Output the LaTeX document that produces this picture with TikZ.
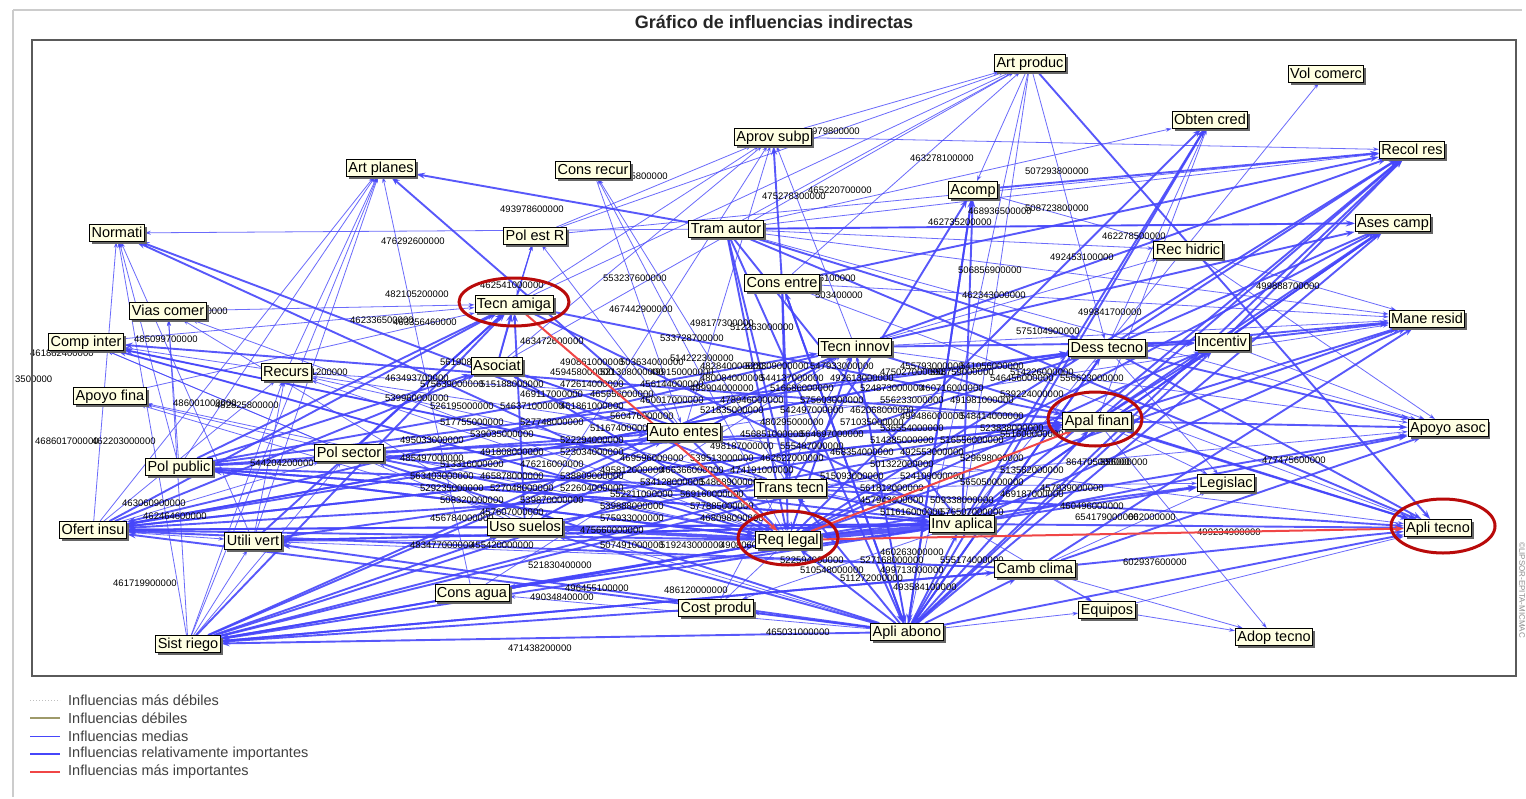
\documentclass[tikz,border=0pt]{standalone}
\usepackage{fontspec}
\setmainfont{Liberation Sans}
\usetikzlibrary{arrows.meta,shadows}
\definecolor{eblue}{RGB}{70,70,250}
\definecolor{ered}{RGB}{240,70,70}
\definecolor{ellred}{RGB}{185,10,10}
\definecolor{boxfill}{RGB}{255,255,226}
\definecolor{framegray}{RGB}{90,90,90}
\pgfdeclarelayer{edgelayer}
\pgfdeclarelayer{labellayer}
\pgfsetlayers{edgelayer,labellayer,main}
\tikzset{
  vbox/.style={draw=black, line width=0.8pt, fill=boxfill, inner xsep=2pt, inner ysep=1.5pt,
    text height=11pt, text depth=3pt, font=\fontsize{14.5}{15}\selectfont,
    drop shadow={shadow xshift=2.5pt, shadow yshift=-2.5pt, fill=black!60, opacity=1}},
  edgemed/.style={draw=eblue, line width=0.8pt, opacity=0.8, -{Stealth[length=6pt,width=4pt]}},
  edgeimp/.style={draw=eblue, line width=1.9pt, opacity=0.9, -{Stealth[length=9pt,width=6pt]}},
  edgetop/.style={draw=ered, line width=2pt, -{Stealth[length=9pt,width=6pt]}},
  numlbl/.style={font=\fontsize{9.5}{10}\selectfont, inner sep=0pt, anchor=west, text=black},
  ringred/.style={draw=ellred, line width=3pt},
  legtext/.style={font=\fontsize{14.5}{15}\selectfont, text=black!75, anchor=west, inner sep=0pt}
}
\begin{document}
\begin{tikzpicture}[x=1pt,y=-1pt]
\useasboundingbox (0,0) rectangle (1526,798);
\begin{pgfonlayer}{edgelayer}
\fill[white] (0,0) rectangle (1526,798);
\end{pgfonlayer}
% frames
\draw[black!20, line width=1.2pt] (13,10) -- (1522,10);
\draw[black!20, line width=1.2pt] (13,10) -- (13,797);
\draw[framegray, line width=1.5pt] (32,40) rectangle (1516,676);
\node[font=\bfseries\fontsize{18}{19}\selectfont, text=black!85] (title) at (774,22) {Gráfico de influencias indirectas};

\path
 (1030,63) node[vbox] (artprod) {Art produc}
 (1326,74) node[vbox] (volcom) {Vol comerc}
 (1210,120) node[vbox] (obten) {Obten cred}
 (773,137) node[vbox] (aprov) {Aprov subp}
 (1412,150) node[vbox] (recol) {Recol res}
 (381,168) node[vbox] (artplan) {Art planes}
 (593,170) node[vbox] (consrec) {Cons recur}
 (973,190) node[vbox] (acomp) {Acomp}
 (117,233) node[vbox] (normat) {Normati}
 (535,236) node[vbox] (polest) {Pol est R}
 (726,229) node[vbox] (tram) {Tram autor}
 (1393,223) node[vbox] (ases) {Ases camp}
 (1188,250) node[vbox] (rechid) {Rec hidric}
 (782,283) node[vbox] (consent) {Cons entre}
 (514,304) node[vbox] (tecam) {Tecn amiga}
 (168,311) node[vbox] (vias) {Vias comer}
 (1427,319) node[vbox] (mane) {Mane resid}
 (86,342) node[vbox] (compint) {Comp inter}
 (855,347) node[vbox] (tecinn) {Tecn innov}
 (1107,348) node[vbox] (dess) {Dess tecno}
 (1222,342) node[vbox] (incent) {Incentiv}
 (497,366) node[vbox] (asoc) {Asociat}
 (286,372) node[vbox] (recurs) {Recurs}
 (110,396) node[vbox] (apoyof) {Apoyo fina}
 (1097,421) node[vbox] (apal) {Apal finan}
 (1448,428) node[vbox] (apoyoa) {Apoyo asoc}
 (684,432) node[vbox] (auto) {Auto entes}
 (349,453) node[vbox] (polsec) {Pol sector}
 (179,467) node[vbox] (polpub) {Pol public}
 (790,488) node[vbox] (trans) {Trans tecn}
 (1226,483) node[vbox] (legis) {Legislac}
 (93,530) node[vbox] (ofert) {Ofert insu}
 (525,527) node[vbox] (uso) {Uso suelos}
 (253,541) node[vbox] (utili) {Utili vert}
 (788,540) node[vbox] (req) {Req legal}
 (962,524) node[vbox] (inv) {Inv aplica}
 (1438,528) node[vbox] (aplitec) {Apli tecno}
 (1035,569) node[vbox] (camb) {Camb clima}
 (472,593) node[vbox] (consag) {Cons agua}
 (716,608) node[vbox] (cost) {Cost produ}
 (1107,610) node[vbox] (equip) {Equipos}
 (907,632) node[vbox] (apliab) {Apli abono}
 (1274,637) node[vbox] (adop) {Adop tecno}
 (188,644) node[vbox] (sist) {Sist riego};

\begin{pgfonlayer}{edgelayer}
% medium influences
\foreach \a/\b in {tram/normat, tram/obten, tram/artprod, polest/artprod, aprov/artprod, consent/artprod,
  tecam/artprod, asoc/artprod, tecam/aprov, polest/aprov, asoc/aprov, tecinn/aprov, uso/aprov, auto/aprov,
  artprod/dess, artprod/apliab, artprod/inv, artprod/acomp, inv/volcom, dess/obten, apal/obten,
  trans/consrec, req/consrec, ofert/normat, polpub/normat, sist/normat, utili/normat,
  ofert/artplan, utili/artplan, recurs/artplan, sist/artplan, polpub/artplan, consag/artplan,
  vias/tecam, compint/tecam, compint/req, apoyof/tecam, uso/compint, auto/compint, polsec/compint, inv/compint,
  req/apoyof, polsec/apoyof, apliab/apoyof, req/recurs, inv/recurs, apal/recurs,
  sist/vias, polpub/vias, req/vias, sist/utili, ofert/utili, req/utili, inv/utili, camb/utili,
  camb/equip, inv/equip, apliab/equip, equip/adop, req/cost, apliab/cost, inv/cost,
  apliab/consag, req/consag, inv/consag, tram/mane, rechid/mane, tram/apoyoa, tecinn/apoyoa,
  auto/aplitec, consent/aplitec, tram/rechid, tecinn/rechid, acomp/rechid,
  apal/legis, camb/legis, trans/legis, tram/recol, ofert/polsec, sist/polsec,
  req/tecinn, apliab/tecinn, polest/tecam, consrec/auto, aprov/recol, polest/recol,
  tecam/polest, asoc/polest, auto/polest, uso/vias, req/asoc, inv/asoc, trans/compint,
  ofert/recurs, sist/recurs, utili/recurs, dess/legis, equip/aplitec, camb/adop,
  tram/ases, tecinn/mane, consent/mane, auto/mane, uso/tecinn, consag/tecinn, cost/tecinn,
  trans/apoyoa, rechid/apoyoa, incent/apoyoa, apal/adop}
  \draw[edgemed] (\a) -- (\b);

% relatively important influences
\foreach \a/\b in {tram/artplan, auto/artplan, trans/normat, req/normat, consent/aprov,
  apliab/acomp, inv/acomp, trans/acomp, apliab/obten, inv/obten, req/obten,
  acomp/recol, dess/recol, apal/recol, inv/recol, tecinn/recol, consent/recol, req/recol, incent/recol, apliab/recol,
  tecinn/ases, dess/ases, apal/ases, inv/ases, req/ases, apliab/ases, incent/ases, tram/ases,
  apal/mane, dess/mane, inv/mane, req/mane, camb/mane, incent/mane,
  apal/apoyoa, inv/apoyoa, req/apoyoa, camb/apoyoa, dess/apoyoa,
  inv/aplitec, camb/aplitec, apal/aplitec, dess/aplitec, trans/aplitec, tecinn/aplitec, artprod/aplitec,
  apliab/aplitec, tram/aplitec,
  dess/incent, apal/incent, tecinn/incent, inv/incent, req/incent, apliab/incent,
  inv/legis, req/legis,
  req/ofert, inv/ofert, apal/ofert, dess/ofert, tecinn/ofert, trans/ofert, uso/ofert, apliab/ofert, auto/ofert,
  sist/req, sist/inv, sist/apal, sist/camb, sist/trans, sist/tecinn, sist/dess, sist/tecam, sist/uso, sist/auto,
  apliab/sist,
  polpub/tecam, polpub/asoc, polpub/req, polpub/inv, polpub/apal, polpub/dess, polpub/tecinn, polpub/trans,
  polpub/auto,
  ofert/tecam, ofert/asoc, ofert/apal, ofert/dess,
  utili/tecam, utili/inv, utili/apal,
  polsec/tecam, polsec/req, polsec/inv, polsec/apal, polsec/dess,
  asoc/tecam, uso/inv, uso/apal, uso/tecam,
  apliab/req, apliab/trans, apliab/inv, apliab/camb, apliab/apal, apliab/dess, apliab/consent,
  apliab/uso, apliab/utili, apliab/polsec,
  tram/req, tram/inv, tram/trans, tram/apliab, tram/dess,
  tecinn/req, tecinn/uso, consent/req, consent/trans, consent/apliab,
  consag/req, consag/inv, auto/req, tecam/inv, tecam/apal, asoc/req, asoc/inv,
  inv/compint, req/compint, apal/compint, req/polpub, inv/polpub,
  camb/sist, cost/sist, req/sist, inv/utili, camb/ofert, tecinn/apliab, dess/apliab, acomp/apliab}
  \draw[edgeimp] (\a) -- (\b);

% very thick bands
\draw[edgeimp, line width=5pt] (inv) -- (req);
\draw[edgeimp, line width=3.5pt] (uso) -- (req);
\end{pgfonlayer}

\begin{pgfonlayer}{labellayer}
% edge value labels
\path
 (812,131) node[numlbl] (l1) {979800000}
 (604,176) node[numlbl] (l2) {470795800000}
 (500,209) node[numlbl] (l3) {493978600000}
 (381,241) node[numlbl] (l4) {476292600000}
 (910,158) node[numlbl] (l5) {463278100000}
 (762,196) node[numlbl] (l6) {475278300000}
 (808,190) node[numlbl] (l7) {465220700000}
 (1025,171) node[numlbl] (l8) {507293800000}
 (968,211) node[numlbl] (l9) {468936500000}
 (1025,208) node[numlbl] (l10) {508723800000}
 (928,222) node[numlbl] (l11) {462735200000}
 (1102,236) node[numlbl] (l12) {462278500000}
 (1050,257) node[numlbl] (l13) {492453100000}
 (958,270) node[numlbl] (l14) {506856900000}
 (962,295) node[numlbl] (l15) {462343000000}
 (1256,286) node[numlbl] (l16) {499888700000}
 (1078,312) node[numlbl] (l17) {499841700000}
 (1016,331) node[numlbl] (l18) {575104900000}
 (603,278) node[numlbl] (l19) {553237600000}
 (609,309) node[numlbl] (l20) {467442900000}
 (690,323) node[numlbl] (l21) {498177300000}
 (730,327) node[numlbl] (l22) {512263000000}
 (660,338) node[numlbl] (l23) {533728700000}
 (670,358) node[numlbl] (l24) {514222300000}
 (385,294) node[numlbl] (l25) {482105200000}
 (350,320) node[numlbl] (l26) {462336500000}
 (393,322) node[numlbl] (l27) {463356460000}
 (134,339) node[numlbl] (l28) {485099700000}
 (15,379) node[numlbl] (l29) {3500000}
 (30,353) node[numlbl] (l30) {461882400000}
 (173,403) node[numlbl] (l31) {486001000000}
 (215,405) node[numlbl] (l32) {482825800000}
 (35,441) node[numlbl] (l33) {468601700000}
 (92,441) node[numlbl] (l34) {462203000000}
 (122,503) node[numlbl] (l35) {463060900000}
 (143,516) node[numlbl] (l36) {462464600000}
 (113,583) node[numlbl] (l37) {461719900000}
 (508,648) node[numlbl] (l38) {471438200000}
 (766,632) node[numlbl] (l39) {465031000000}
 (664,590) node[numlbl] (l40) {486120000000}
 (530,597) node[numlbl] (l41) {490348400000}
 (565,588) node[numlbl] (l42) {496455100000}
 (528,565) node[numlbl] (l43) {521830400000}
 (893,587) node[numlbl] (l44) {493584100000}
 (1262,460) node[numlbl] (l45) {477475600000}
 (1123,562) node[numlbl] (l46) {602937600000}
 (1197,532) node[numlbl] (l47) {499234900000}
 (1075,517) node[numlbl] (l48) {654179000000}
 (1128,517) node[numlbl] (l49) {662000000}
 (1066,462) node[numlbl] (l50) {864705000000}
 (1100,462) node[numlbl] (l51) {556000000}
 (250,463) node[numlbl] (l52) {544204200000}
 (180,311) node[numlbl] (l53) {485100000}
 (808,278) node[numlbl] (l54) {526100000}
 (815,295) node[numlbl] (l55) {503400000}
 (480,285) node[numlbl] (l56) {462541000000}
 (520,341) node[numlbl] (l57) {463472600000}
 (300,372) node[numlbl] (l58) {461200000}
 (385,378) node[numlbl] (l59) {463493700000}
 (385,398) node[numlbl] (l60) {539960000000};

\pgfmathsetseed{4711}
\foreach \px/\py [count=\k] in {440/362, 560/362, 620/362, 700/366, 745/366, 810/366, 900/366, 960/366,
  550/372, 600/372, 650/372, 880/372, 930/372, 1010/372, 700/378, 760/378, 830/378, 990/378, 1060/378,
  420/384, 480/384, 560/384, 640/384, 690/388, 770/388, 860/388, 920/388, 520/394, 590/394, 1000/394,
  640/400, 720/400, 800/400, 880/400, 950/400, 430/406, 500/406, 560/406, 700/410, 780/410, 850/410,
  610/416, 900/416, 960/416, 440/422, 520/422, 760/422, 840/422, 590/428, 880/428, 980/428,
  470/434, 740/434, 800/434, 1000/434, 400/440, 560/440, 870/440, 940/440, 710/446, 780/446,
  480/452, 560/452, 830/452, 900/452, 400/458, 620/458, 690/458, 760/458, 960/458,
  440/464, 520/464, 870/464, 600/470, 660/470, 730/470, 1000/470, 410/476, 480/476, 560/476, 820/476, 900/476,
  640/482, 700/482, 960/482, 420/488, 490/488, 560/488, 860/488, 1040/488, 610/494, 680/494, 1000/494,
  440/500, 520/500, 860/500, 930/500, 600/506, 690/506, 1060/506, 480/512, 880/512, 940/512,
  430/518, 600/518, 700/518, 580/530, 410/545, 470/545, 600/545, 660/545, 720/545,
  880/552, 780/560, 860/560, 940/560, 800/570, 880/570, 840/578}
{
  \pgfmathrandominteger{\rn}{455000}{580000}
  \node[numlbl] (c\k) at (\px,\py) {\rn000000};
}

% most important influences
\draw[edgetop] (tecam) -- (req);
\draw[edgetop] (req) -- (apal);
\draw[edgetop] (req) -- (aplitec);
\end{pgfonlayer}

% red highlight rings
\draw[ringred] (514,302) ellipse [x radius=55pt, y radius=24pt];
\draw[ringred] (788,538) ellipse [x radius=50pt, y radius=27pt];
\draw[ringred] (1095,419) ellipse [x radius=47pt, y radius=27pt];
\draw[ringred] (1443,526) ellipse [x radius=52pt, y radius=27pt];

% watermark
\node[rotate=-90, font=\fontsize{8}{8}\selectfont, text=black!45] (wm) at (1522,590) {\textcopyright LIPSOR-EPITA-MICMAC};

% legend
\draw[black!25, line width=1pt, dotted] (30,700) coordinate (s1a) -- (60,700) coordinate (s1b);
\draw[black!45!olive!60, line width=1.2pt] (30,718) coordinate (s2a) -- (60,718) coordinate (s2b);
\draw[eblue, line width=1pt] (30,736) coordinate (s3a) -- (60,736) coordinate (s3b);
\draw[eblue, line width=2.2pt] (30,754) coordinate (s4a) -- (60,754) coordinate (s4b);
\draw[ered, line width=2.2pt] (30,772) coordinate (s5a) -- (60,772) coordinate (s5b);
\node[legtext] (t1) at (68,700) {Influencias más débiles};
\node[legtext] (t2) at (68,718) {Influencias débiles};
\node[legtext] (t3) at (68,736) {Influencias medias};
\node[legtext] (t4) at (68,754) {Influencias relativamente importantes};
\node[legtext] (t5) at (68,772) {Influencias más importantes};
\end{tikzpicture}
\end{document}
